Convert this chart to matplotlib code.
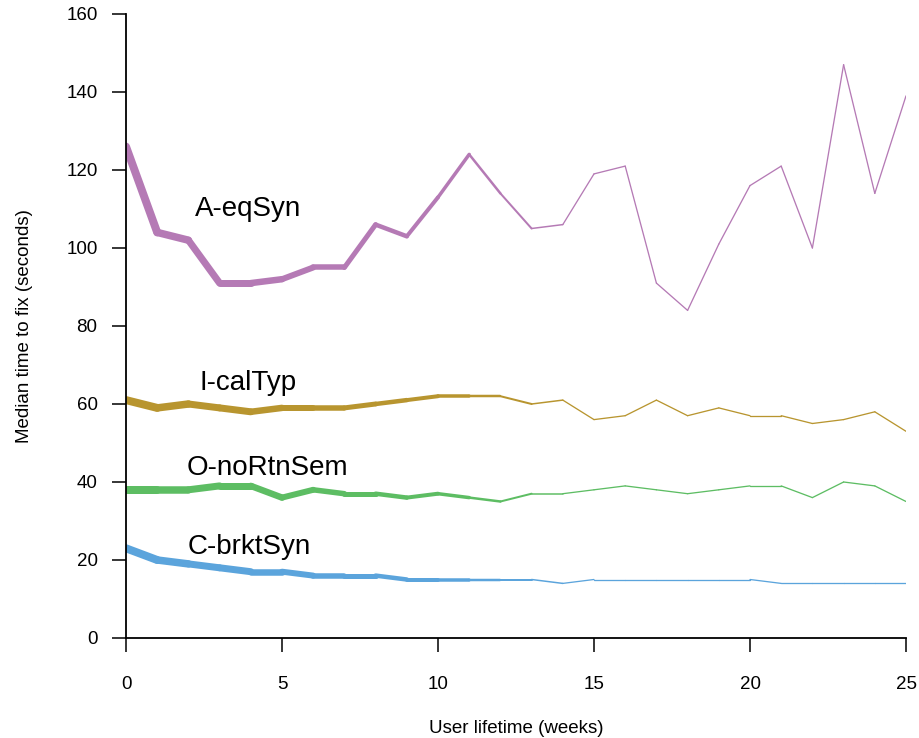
import matplotlib
matplotlib.use("Agg")
import matplotlib.pyplot as plt
import numpy as np

plt.rcParams['font.family'] = ['Liberation Sans', 'DejaVu Sans']

weeks = list(range(26))

a_eqsyn = [126, 104, 102, 91, 91, 92, 95, 95, 106, 103, 113, 124, 114, 105, 106,
           119, 121, 91, 84, 101, 116, 121, 100, 147, 114, 139]
i_caltyp = [61, 59, 60, 59, 58, 59, 59, 59, 60, 61, 62, 62, 62, 60, 61,
            56, 57, 61, 57, 59, 57, 57, 55, 56, 58, 53]
o_nortnsem = [38, 38, 38, 39, 39, 36, 38, 37, 37, 36, 37, 36, 35, 37, 37,
              38, 39, 38, 37, 38, 39, 39, 36, 40, 39, 35]
c_brktsyn = [23, 20, 19, 18, 17, 17, 16, 16, 16, 15, 15, 15, 15, 15, 14,
             15, 15, 15, 15, 15, 15, 14, 14, 14, 14, 14]

# line width of each segment (pixels), shrinking as users drop out
seg_width_px = [8, 7.5, 7, 7, 6.5, 6, 5.5, 5, 4.5, 4, 3.5, 2.5, 2, 1.5,
                1.3, 1.3, 1.3, 1.3, 1.3, 1.3, 1.3, 1.3, 1.3, 1.3, 1.3]

series = [
    ("A-eqSyn", a_eqsyn, "#b57ab5", (2.2, 110)),
    ("I-calTyp", i_caltyp, "#b8952f", (2.35, 65.5)),
    ("O-noRtnSem", o_nortnsem, "#5dbd63", (1.95, 43.6)),
    ("C-brktSyn", c_brktsyn, "#5ba4dc", (1.98, 23.3)),
]

fig = plt.figure(figsize=(9.19, 7.38), dpi=100)
ax = fig.add_axes([126 / 919, 1 - 638 / 738, 780 / 919, 624 / 738])

for name, vals, color, (lx, ly) in series:
    for i in range(len(weeks) - 1):
        ax.plot(weeks[i:i + 2], vals[i:i + 2], color=color,
                lw=seg_width_px[i] * 0.72, solid_capstyle='round',
                solid_joinstyle='round')
    ax.text(lx, ly, name, fontsize=20, va='center', ha='left')

ax.set_xlim(0, 25)
ax.set_ylim(0, 160)
ax.set_xticks([0, 5, 10, 15, 20, 25])
ax.set_yticks(np.arange(0, 161, 20))
ax.spines['top'].set_visible(False)
ax.spines['right'].set_visible(False)
for s in ['left', 'bottom']:
    ax.spines[s].set_linewidth(1.3)
ax.tick_params(axis='both', length=10, width=1.1, labelsize=13.5, direction='out')
ax.tick_params(axis='x', pad=17.5)
ax.tick_params(axis='y', pad=10.5)
ax.set_xlabel("User lifetime (weeks)", fontsize=13.5, labelpad=19)
ax.set_ylabel("Median time to fix (seconds)", fontsize=13.5, labelpad=24)

fig.savefig("out.png", dpi=100)
